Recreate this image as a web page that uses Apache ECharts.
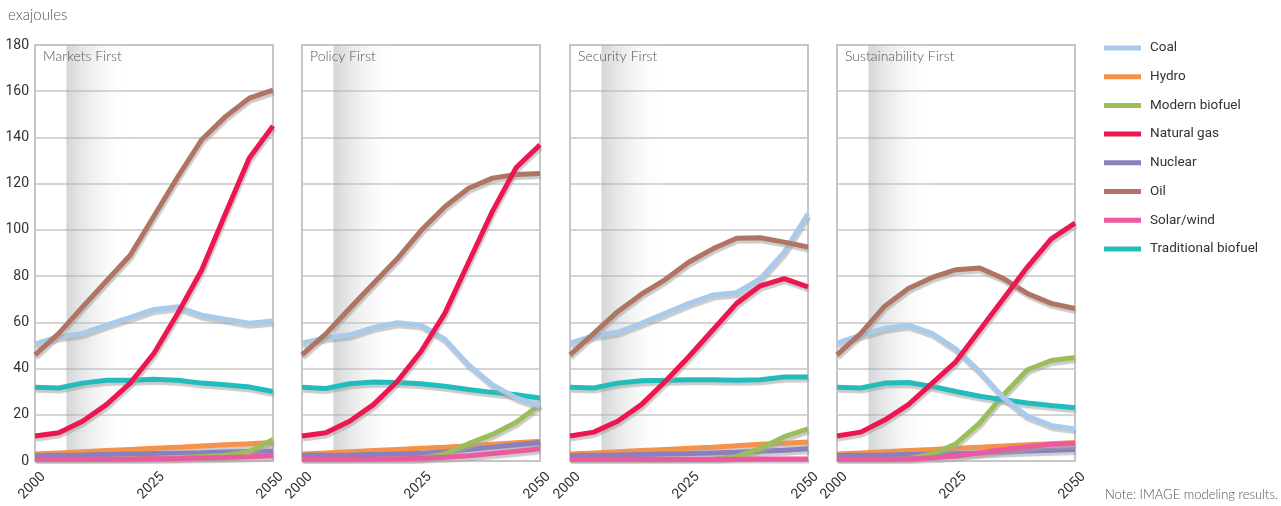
<!DOCTYPE html>
<html><head><meta charset="utf-8">
<script src="https://cdn.jsdelivr.net/npm/echarts@6/dist/echarts.min.js"></script>
<style>html,body{margin:0;padding:0;background:#fff}#c{width:1281px;height:506px}</style>
</head><body><div id="c"></div>
<script>
const years = [2000,2005,2010,2015,2020,2025,2030,2035,2040,2045,2050];
const fuelNames = ['Coal','Hydro','Modern biofuel','Natural gas','Nuclear','Oil','Solar/wind','Traditional biofuel'];
const scenarioTitles = ['Markets First','Policy First','Security First','Sustainability First'];

// Markets First
const mfCoal    = [50.7,53.8,55.2,58.8,62.1,65.6,66.7,63.1,61.3,59.6,60.6];
const mfHydro   = [3,3.5,4,4.5,5,5.5,6,6.5,7,7.5,8];
const mfModern  = [0.5,0.5,0.5,0.7,1,1.2,1.5,2,2.5,4,9.3];
const mfGas     = [10.8,12.2,17.2,24.4,33.7,46.6,63.9,82.5,107,131,145];
const mfNuclear = [2.4,2.5,2.6,2.8,3,3.2,3.4,3.6,3.9,4.1,4.3];
const mfOil     = [45.9,55.2,66.7,77.9,89,106,123,139,149,157,160.5];
const mfSolar   = [0.8,0.8,0.8,0.8,0.9,1,1.1,1.3,1.5,1.8,2.3];
const mfTrad    = [31.9,31.6,33.7,34.9,34.9,35.4,34.9,33.7,33,32,30.1];
// Policy First
const pfCoal    = [51,53.4,54.5,57.8,59.8,58.8,52.7,41.6,33,27.3,23.7];
const pfHydro   = [3,3.5,4,4.5,5,5.5,6,6.6,7.3,7.9,8.5];
const pfModern  = [0.5,0.5,0.5,0.6,0.8,1.2,3,7.5,11.5,16.8,24.4];
const pfGas     = [10.8,12.2,17.2,24.4,34.4,47.4,63.9,86,108,127,136.8];
const pfNuclear = [2.5,2.5,2.6,2.8,3,3.3,4,5,6,7,8];
const pfOil     = [45.9,55,66,76.8,87.5,99.7,110,118,122.4,124,124.4];
const pfSolar   = [0.9,0.9,0.9,0.9,1,1.2,1.6,2.3,3.2,4.2,5.3];
const pfTrad    = [31.9,31.4,33.4,34.2,34,33.4,32.3,30.9,29.7,28.7,27.3];
// Security First
const sfCoal    = [51,54.2,55.7,59.6,63.9,68.2,71.8,72.8,78.9,90.4,106.9];
const sfHydro   = [3,3.5,4,4.5,5,5.5,6,6.6,7.2,7.7,8.2];
const sfModern  = [0.5,0.5,0.5,0.5,0.5,0.6,0.8,2,5.5,10.5,13.9];
const sfGas     = [10.8,12.5,17.2,24.4,34.4,45.2,56.7,68.2,75.8,78.9,75.3];
const sfNuclear = [2.4,2.5,2.6,2.8,3,3.2,3.5,3.8,4.2,4.7,5.3];
const sfOil     = [45.9,55.2,64.6,72.2,78.5,86.1,91.8,96.4,96.6,94.7,92.6];
const sfSolar   = [0.8,0.8,0.8,0.8,0.8,0.8,0.8,0.8,0.9,0.9,0.9];
const sfTrad    = [31.9,31.6,33.7,34.7,34.9,35.2,35.2,34.9,35.2,36.3,36.3];
// Sustainability First
const ssCoal    = [51,54.5,57.4,58.8,55.2,48.4,38.7,27.3,19.4,15.4,13.9];
const ssHydro   = [3,3.5,4,4.5,5,5.5,6,6.5,7,7.5,8];
const ssModern  = [0.5,0.5,0.5,1,3,7.5,16.5,28.7,39.5,43.5,44.8];
const ssGas     = [10.8,12.5,17.7,24.4,33.7,43,56.7,70.3,83.9,96.1,102.9];
const ssNuclear = [2.4,2.5,2.6,2.8,3,3.2,3.5,3.9,4.3,4.7,5];
const ssOil     = [45.9,55.2,67,74.6,79.4,82.8,83.5,78.9,72.5,68.2,66];
const ssSolar   = [0.8,0.8,0.8,0.9,1.4,2.2,3.6,5,6.2,7.2,7.6];
const ssTrad    = [31.9,31.6,33.7,34,32.3,30.1,28,26.5,25.1,24,23];

const scenarioData = [
  {Coal:mfCoal,Hydro:mfHydro,'Modern biofuel':mfModern,'Natural gas':mfGas,Nuclear:mfNuclear,Oil:mfOil,'Solar/wind':mfSolar,'Traditional biofuel':mfTrad},
  {Coal:pfCoal,Hydro:pfHydro,'Modern biofuel':pfModern,'Natural gas':pfGas,Nuclear:pfNuclear,Oil:pfOil,'Solar/wind':pfSolar,'Traditional biofuel':pfTrad},
  {Coal:sfCoal,Hydro:sfHydro,'Modern biofuel':sfModern,'Natural gas':sfGas,Nuclear:sfNuclear,Oil:sfOil,'Solar/wind':sfSolar,'Traditional biofuel':sfTrad},
  {Coal:ssCoal,Hydro:ssHydro,'Modern biofuel':ssModern,'Natural gas':ssGas,Nuclear:ssNuclear,Oil:ssOil,'Solar/wind':ssSolar,'Traditional biofuel':ssTrad}
];

const colors = {
  'Coal':'#a8cbec','Hydro':'#f5924a','Modern biofuel':'#9cbe5a','Natural gas':'#ec1751',
  'Nuclear':'#8880bf','Oil':'#b07462','Solar/wind':'#ea5a9f','Traditional biofuel':'#22bcbc'
};
const drawOrder = ['Hydro','Nuclear','Modern biofuel','Solar/wind','Traditional biofuel','Coal','Oil','Natural gas'];

const narrow = 'Roboto, "DejaVu Sans", sans-serif';
const light = 'Lato, "Open Sans", sans-serif';

const gridLefts = [35, 302, 570, 837];
const gridW = 238;
const grids = [], xAxes = [], yAxes = [], series = [], titles = [];

gridLefts.forEach((l, i) => {
  grids.push({left:l, top:45, width:gridW, height:416, show:true, borderColor:'#c6c6c6', borderWidth:2, backgroundColor:'transparent'});
  xAxes.push({type:'value', gridIndex:i, min:2000, max:2050, interval:25,
    axisLine:{show:false}, axisTick:{show:false}, splitLine:{show:false},
    axisLabel:{rotate:45, margin:22, align:'center', verticalAlign:'middle', padding:[0,8,0,0],
      formatter:(v) => String(v),
      fontFamily:narrow, fontSize:14, color:'#333', showMinLabel:true, showMaxLabel:true}});
  yAxes.push({type:'value', gridIndex:i, min:0, max:180, interval:20,
    axisLine:{show:false}, axisTick:{show:false},
    splitLine:{lineStyle:{color:'#c6c6c6', width:1.5}},
    axisLabel:{show:i===0, margin:6, fontFamily:narrow, fontSize:14, color:'#333'}});
  titles.push({text:scenarioTitles[i], left:l+8, top:49, padding:0,
    textStyle:{fontFamily:light, fontWeight:300, fontSize:14, color:'#555'}});
  drawOrder.forEach((name, k) => {
    const vals = scenarioData[i][name];
    const s = {
      type:'line', name:name, xAxisIndex:i, yAxisIndex:i,
      data: years.map((y, j) => [y, vals[j]]),
      showSymbol:false, symbol:'none', smooth:false,
      color: colors[name],
      lineStyle:{color:colors[name], width:5, shadowColor:'rgba(160,160,160,0.55)', shadowBlur:1, shadowOffsetX:1, shadowOffsetY:3},
      emphasis:{disabled:true}, silent:true, animation:false
    };
    if (k === 0) {
      s.markArea = {silent:true, data:[[
        {xAxis:2006.6, itemStyle:{color:{type:'linear', x:0, y:0, x2:1, y2:0, colorStops:[
          {offset:0, color:'rgba(170,172,176,0.5)'},
          {offset:0.45, color:'rgba(200,202,205,0.25)'},
          {offset:1, color:'rgba(255,255,255,0)'}]}}},
        {xAxis:2020}
      ]]};
    }
    series.push(s);
  });
});

titles.push({text:'exajoules', left:8, top:8, padding:0, textStyle:{fontFamily:light, fontWeight:300, fontSize:15, color:'#555'}});
titles.push({text:'Note: IMAGE modeling results.', left:1105, top:488, padding:0, textStyle:{fontFamily:light, fontWeight:300, fontSize:13, color:'#555'}});

const chart = echarts.init(document.getElementById('c'), null, {renderer:'canvas'});
chart.setOption({
  animation:false,
  backgroundColor:'#fff',
  title:titles,
  grid:grids, xAxis:xAxes, yAxis:yAxes,
  legend:{data:fuelNames, orient:'vertical', left:1104, top:39, padding:0, icon:'rect', itemWidth:37, itemHeight:5,
    itemGap:10.7, selectedMode:false,
    textStyle:{fontFamily:narrow, fontSize:13.5, color:'#333', lineHeight:18, padding:[0,0,0,4]}},
  series:series
});
</script></body></html>
